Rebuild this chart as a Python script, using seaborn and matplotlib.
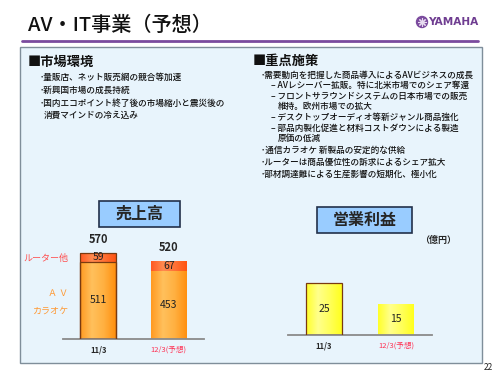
import numpy as np
import matplotlib
matplotlib.use('Agg')
import matplotlib.pyplot as plt
from matplotlib.patches import Rectangle, Circle
from matplotlib.colors import LinearSegmentedColormap
import seaborn as sns

# Data
periods = ['11/3', '12/3(予想)']
sales_total = [570, 520]
sales_av = [511, 453]
sales_router = [59, 67]
profit = [25, 15]

left_lines = [
    (40, 77, '･量販店、ネット販売網の競合等加速'),
    (40, 90, '･新興国市場の成長持続'),
    (40, 103, '･国内エコポイント終了後の市場縮小と震災後の'),
    (44, 115, '消費マインドの冷え込み'),
]
right_lines = [
    (261, 75, '･需要動向を把握した商品導入によるAVビジネスの成長'),
    (271, 85, '– AVレシーバー拡販。特に北米市場でのシェア奪還'),
    (271, 96, '– フロントサラウンドシステムの日本市場での販売'),
    (278, 106, '維持。欧州市場での拡大'),
    (271, 117, '– デスクトップオーディオ等新ジャンル商品強化'),
    (271, 128, '– 部品内製化促進と材料コストダウンによる製造'),
    (278, 138, '原価の低減'),
    (261, 150, '･通信カラオケ 新製品の安定的な供給'),
    (261, 162, '･ルーターは商品優位性の訴求によるシェア拡大'),
    (261, 174, '･部材調達難による生産影響の短期化、極小化'),
]

sns.set_style('white')
plt.rcParams['font.family'] = ['Noto Sans CJK JP', 'DejaVu Sans']

fig = plt.figure(figsize=(5, 3.75), dpi=100)


def px_rect(l, t, r, b):
    return [l / 500, 1 - b / 375, (r - l) / 500, (b - t) / 375]


# page layer in pixel coordinates
bg = fig.add_axes([0, 0, 1, 1])
bg.set_xlim(0, 500)
bg.set_ylim(375, 0)
bg.axis('off')

bg.text(28, 25, 'AV・IT事業（予想）', fontsize=14.5, fontweight='medium', va='center', color='#111111')
bg.plot([22, 478], [41, 41], color='#7b4b9e', lw=2)
bg.add_patch(Circle((422, 22), 5.5, color='#7b4b9e'))
bg.plot([422], [22], marker=(8, 2, 0), ms=6, color='#e8dcf0', mew=0.8)
bg.text(478, 22, 'YAMAHA', fontsize=7.6, fontweight='bold', color='#6f3d91', ha='right', va='center',
        family='DejaVu Sans')

bg.add_patch(Rectangle((20, 47), 462, 316, facecolor='#e8f4fc', edgecolor='#7f8e9a', lw=1, zorder=0))
bg.text(484, 367, '22', fontsize=6, va='center', ha='left', color='#222222')

bg.text(28, 62, '■市場環境', fontsize=9.5, fontweight='bold', va='center', color='#111111')
bg.text(253, 61, '■重点施策', fontsize=9.5, fontweight='bold', va='center', color='#111111')
for x, y, s in left_lines + right_lines:
    bg.text(x, y, s, fontsize=6.2, fontweight='medium', va='center', color='#111111')

# chart title boxes
bg.add_patch(Rectangle((99, 201), 81, 26, facecolor='#99ccff', edgecolor='#22304a', lw=1.2, zorder=1))
bg.text(139.5, 214, '売上高', fontsize=11.5, fontweight='bold', ha='center', va='center', zorder=2)
bg.add_patch(Rectangle((317, 207), 95, 26, facecolor='#99ccff', edgecolor='#22304a', lw=1.2, zorder=1))
bg.text(364.5, 220, '営業利益', fontsize=11.5, fontweight='bold', ha='center', va='center', zorder=2)
bg.text(438, 240, '（億円）', fontsize=6.5, fontweight='bold', ha='center', va='center')

# segment labels for sales
bg.text(68, 258, 'ルーター他', fontsize=6.5, color='#ff4d4d', ha='right', va='center')
bg.text(68, 293, 'Ａ Ｖ', fontsize=6.5, color='#ff9933', ha='right', va='center')
bg.text(68, 311, 'カラオケ', fontsize=6.5, color='#ff9933', ha='right', va='center')

cm_av = LinearSegmentedColormap.from_list('av', ['#ff9a22', '#ffc05c', '#ffb040', '#ff9010'])
cm_rt = LinearSegmentedColormap.from_list('rt', ['#ff5a22', '#ff8a50', '#ff7236', '#ff5412'])
cm_pf = LinearSegmentedColormap.from_list('pf', ['#ffff2a', '#ffff8c', '#ffff5a', '#ffff1e'])


def shade(ax, patch, cmap, edge, z):
    x0, y0 = patch.get_x(), patch.get_y()
    w, h = patch.get_width(), patch.get_height()
    im = ax.imshow(np.linspace(0, 1, 64)[None, :], extent=(x0, x0 + w, y0, y0 + h),
                   aspect='auto', cmap=cmap, zorder=z, interpolation='bilinear')
    im.set_clip_path(patch)
    patch.set_facecolor('none')
    patch.set_edgecolor(edge if edge else 'none')
    patch.set_linewidth(0.9)
    patch.set_zorder(3)


def style_axis(ax, ylim):
    ax.set_xlim(-0.5, 1.5)
    ax.set_ylim(0, ylim)
    ax.patch.set_alpha(0)
    sns.despine(ax=ax, left=True)
    ax.set_yticks([])
    ax.set_xlabel('')
    ax.set_ylabel('')
    ax.spines['bottom'].set_color('#8a8a8a')
    ax.spines['bottom'].set_linewidth(1.3)
    ax.set_xticks([0, 1])
    ax.set_xticklabels(periods)
    ax.set_xticks([-0.5, 0.5, 1.5], minor=True)
    ax.tick_params(axis='x', which='major', length=0, pad=4.5, labelsize=5.5)
    ax.tick_params(axis='x', which='minor', length=3, direction='inout', color='#8a8a8a', width=1)
    labels = ax.get_xticklabels()
    labels[0].set_fontweight('bold')
    labels[1].set_color('#ff3355')


# sales chart
ax1 = fig.add_axes(px_rect(63, 230.4, 204, 339))
sns.barplot(x=periods, y=sales_total, ax=ax1, color='#ff6a30', width=0.51, saturation=1)
sns.barplot(x=periods, y=sales_av, ax=ax1, color='#ffa030', width=0.51, saturation=1)
bars = ax1.patches
edges = ['#7a3a10', None]
for i in range(2):
    shade(ax1, bars[i], cm_rt, edges[i], 1)
    shade(ax1, bars[i + 2], cm_av, edges[i], 1.5)
style_axis(ax1, 720)
for i in range(2):
    ax1.annotate(str(sales_total[i]), (i, sales_total[i]), xytext=(0, 9.4), textcoords='offset points',
                 ha='center', va='center', fontsize=8, fontweight='bold')
    ax1.text(i, sales_av[i] / 2, str(sales_av[i]), ha='center', va='center', fontsize=7.5, color='#222222', zorder=4)
    ax1.text(i, sales_av[i] + sales_router[i] / 2, str(sales_router[i]), ha='center', va='center',
             fontsize=7.5, color='#222222', zorder=4)

# operating profit chart
ax2 = fig.add_axes(px_rect(288, 239.3, 432, 335))
sns.barplot(x=periods, y=profit, ax=ax2, color='#ffff33', width=0.5, saturation=1)
for i, p in enumerate(ax2.patches):
    shade(ax2, p, cm_pf, edges[i], 1)
style_axis(ax2, 46)
for i in range(2):
    ax2.text(i, profit[i] / 2, str(profit[i]), ha='center', va='center', fontsize=7.5, color='#222222', zorder=4)

fig.savefig('out.png', dpi=100)
